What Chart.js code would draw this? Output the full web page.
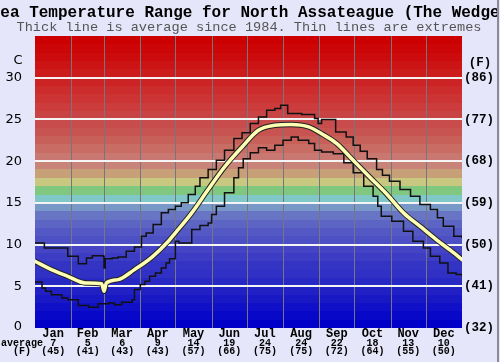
<!DOCTYPE html>
<html>
<head>
<meta charset="utf-8">
<script src="https://cdn.jsdelivr.net/npm/chart.js@4/dist/chart.umd.min.js"></script>
<style>
  body { margin: 0; background: #e6e6fa; }
  canvas { display: block; }
</style>
</head>
<body>
<canvas id="chart" width="500" height="362"></canvas>
<script>
// day of year (0-365) and water temperature in C
const avgDays  = [0,14,28,43,57,59,61,71,85,100,114,120,134,148,162,177,191,205,219,234,246,258,272,286,301,315,329,343,358,365];
const avgTemps = [8.0,7.0,6.2,5.4,5.3,4.4,5.4,5.8,7.0,8.5,10.4,11.4,13.8,16.6,19.3,21.7,23.7,24.3,24.4,24.1,23.2,22.1,20.1,18.1,16.0,13.8,12.2,10.6,9.0,8.2];

const maxDays  = [0,8,28,37,44,49,58,59,60,66,71,78,85,91,95,101,108,114,120,125,131,137,141,148,155,162,170,177,184,191,198,205,210,216,228,239,242,245,257,266,272,278,284,292,297,303,312,321,329,338,344,349,358,365];
const maxTemps = [10.2,9.6,8.6,7.7,8.4,8.65,8.6,7.2,8.3,8.4,8.5,9.2,9.7,11.0,11.4,12.4,13.8,14.2,14.6,15.0,16.0,17.0,18.0,19.0,20.1,21.3,22.7,23.4,24.5,25.3,26.1,26.3,26.7,25.7,25.6,25.1,24.5,25.0,23.5,22.9,21.9,21.2,20.3,19.0,18.3,17.6,16.6,15.8,14.8,14.2,13.2,12.2,11.0,10.8];

const minDays  = [0,6,9,14,23,28,37,46,54,63,68,74,83,85,90,94,98,103,108,112,115,120,123,134,141,148,151,155,162,170,174,178,184,191,198,205,212,219,225,234,239,245,255,264,272,281,289,293,296,305,315,323,332,338,346,353,360,365];
const minTemps = [5.5,4.8,4.4,4.0,3.6,3.4,2.7,2.5,2.9,3.0,2.8,3.1,3.4,4.6,5.2,5.6,6.2,6.6,7.2,7.8,8.3,10.4,10.2,11.8,12.3,12.6,13.6,14.6,16.2,18.0,19.2,20.3,21.0,21.6,21.3,21.9,22.5,22.9,22.5,22.1,21.3,21.1,20.9,19.8,18.6,17.0,15.8,14.6,13.4,12.8,11.6,10.4,9.6,8.6,7.8,6.6,6.4,6.2];

const months     = ['Jan','Feb','Mar','Apr','May','Jun','Jul','Aug','Sep','Oct','Nov','Dec'];
const monthStart = [0,31,59,90,120,151,181,212,243,273,304,334,365];
const monthAvgC  = [7,5,6,9,14,19,24,24,22,18,13,10];
const monthAvgF  = [45,41,43,43,57,66,75,75,72,64,55,50];

const tempTicksC = [0,5,10,15,20,25,30];
const tempTicksF = [32,41,50,59,68,77,86];

// one colour band per degree, 0-1 at the bottom up to 34-35
const bandColors = [
  '#0000c8','#0808c8','#1010c8','#1818c4','#2020c4','#2828c4','#3030c4','#3434c4','#3c3cc4','#4444c4',
  '#4c50c4','#5458c4','#5c64c4','#6874c4','#7898c8','#80c8c8','#80c880','#c8c880','#c8a078','#c88478',
  '#c87870','#c86c64','#c8605a','#c85452','#c84c4c','#c84444','#cc3c3c','#cc3434','#cc2c2c','#cc2424',
  '#cc1c1c','#cc1414','#cc0c0c','#cc0606','#cc0000'
];

const pts = (xs, ys) => xs.map((d, i) => ({ x: d, y: ys[i] }));

const backdrop = {
  id: 'backdrop',
  beforeDraw(chart) {
    const { ctx, chartArea: a, scales: { x, y } } = chart;
    ctx.save();
    ctx.fillStyle = '#e6e6fa';
    ctx.fillRect(0, 0, chart.width, chart.height);
    bandColors.forEach((c, t) => {
      const y1 = y.getPixelForValue(t + 1), y0 = y.getPixelForValue(t);
      ctx.fillStyle = c;
      ctx.fillRect(a.left, Math.round(y1), a.right - a.left, Math.round(y0) - Math.round(y1));
    });
    ctx.restore();
  },
  beforeDatasetsDraw(chart) {
    const { ctx, chartArea: a, scales: { x, y } } = chart;
    ctx.save();
    // vertical month lines
    ctx.strokeStyle = '#767680';
    ctx.lineWidth = 1;
    monthStart.slice(1, -1).forEach(d => {
      const px = Math.round(x.getPixelForValue(d)) + 0.5;
      ctx.beginPath(); ctx.moveTo(px, a.top); ctx.lineTo(px, a.bottom); ctx.stroke();
    });
    // white temperature lines
    ctx.strokeStyle = '#f4f4f4';
    ctx.lineWidth = 2;
    tempTicksC.slice(1).forEach(t => {
      const py = Math.round(y.getPixelForValue(t));
      ctx.beginPath(); ctx.moveTo(a.left, py); ctx.lineTo(a.right, py); ctx.stroke();
    });
    ctx.restore();
  },
  afterDraw(chart) {
    const { ctx, chartArea: a, scales: { x, y } } = chart;
    ctx.save();
    ctx.fillStyle = '#000';
    ctx.textAlign = 'center';
    ctx.textBaseline = 'alphabetic';
    ctx.font = 'bold 16px "Liberation Mono"';
    ctx.fillText('Sea Temperature Range for North Assateague (The Wedge)', 250, 17);
    ctx.fillStyle = '#555';
    ctx.font = '13.6px "Liberation Mono"';
    ctx.fillText('Thick line is average since 1984. Thin lines are extremes', 249, 31);

    // left axis (C)
    ctx.fillStyle = '#000';
    ctx.textBaseline = 'middle';
    ctx.font = '13px "DejaVu Sans"';
    ctx.fillText('C', 18, 61);
    ctx.textAlign = 'right';
    tempTicksC.forEach(t => ctx.fillText(String(t), 22, Math.min(y.getPixelForValue(t), 327)));

    // right axis (F)
    ctx.textAlign = 'center';
    ctx.font = 'bold 12.5px "Liberation Mono"';
    ctx.fillText('(F)', 480, 63);
    tempTicksF.forEach((f, i) => ctx.fillText('(' + f + ')', 479, y.getPixelForValue(tempTicksC[i])));

    // month labels and monthly averages
    ctx.textBaseline = 'alphabetic';
    months.forEach((m, i) => {
      const cx = x.getPixelForValue((monthStart[i] + monthStart[i + 1]) / 2);
      ctx.font = 'bold 12px "Liberation Mono"';
      ctx.fillText(m, cx, 337);
      ctx.font = 'bold 10px "Liberation Mono"';
      ctx.fillText(String(monthAvgC[i]), cx, 345.5);
      ctx.fillText('(' + monthAvgF[i] + ')', cx, 354);
    });
    ctx.font = 'bold 10px "Liberation Mono"';
    ctx.fillText('average', 22, 345.5);
    ctx.fillText('(F)', 22, 354);

    // right frame edge
    ctx.fillStyle = '#8a8a98';
    ctx.fillRect(497, 0, 2, chart.height);
    ctx.restore();
  }
};

new Chart(document.getElementById('chart'), {
  type: 'line',
  data: {
    datasets: [
      { data: pts(avgDays, avgTemps), borderColor: '#ffffb4', borderWidth: 3.5, cubicInterpolationMode: 'monotone', borderJoinStyle: 'round', borderCapStyle: 'round' },
      { data: pts(avgDays, avgTemps), borderColor: '#222', borderWidth: 5.5, cubicInterpolationMode: 'monotone', borderJoinStyle: 'round' },
      { data: pts(maxDays, maxTemps), borderColor: '#111', borderWidth: 1.5, stepped: 'before' },
      { data: pts(minDays, minTemps), borderColor: '#111', borderWidth: 1.5, stepped: 'before' }
    ]
  },
  options: {
    responsive: false,
    animation: false,
    devicePixelRatio: 1,
    layout: { padding: { left: 35, right: 38, top: 36, bottom: 34 } },
    elements: { point: { radius: 0 } },
    scales: {
      x: { type: 'linear', min: 0, max: 365, display: false },
      y: { min: 0, max: 35, display: false }
    },
    plugins: { legend: { display: false }, tooltip: { enabled: false } }
  },
  plugins: [backdrop]
});
</script>
</body>
</html>
